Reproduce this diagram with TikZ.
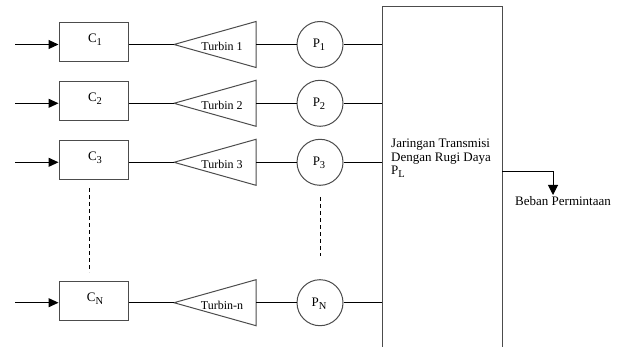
\documentclass[tikz,border=0pt]{standalone}
\usepackage{fontspec}
\setmainfont{Liberation Serif}
\usetikzlibrary{arrows.meta}
\newcommand\mysub[1]{\raisebox{-3pt}{\fontsize{10.5}{11}\selectfont #1}}
\tikzset{
  boxline/.style={draw=black!70, line width=1pt},
  wire/.style={draw=black, line width=1pt},
  inarrow/.style={wire, -{Triangle[length=10pt,width=9pt]}},
  cbox/.style={boxline, minimum width=69pt, minimum height=39pt, inner sep=0pt},
  pcirc/.style={boxline, circle, minimum size=46pt, inner sep=0pt},
  lbl/.style={font=\fontsize{13}{15}\selectfont, inner sep=0pt, anchor=base},
  tlbl/.style={font=\fontsize{12}{14}\selectfont, inner sep=0pt, anchor=base},
  dots/.style={wire, dash pattern=on 4pt off 3pt},
}
\begin{document}
\begin{tikzpicture}[x=1pt,y=-1pt]
\useasboundingbox (0,0) rectangle (620,347);
% big transmission box (open at the bottom)
\coordinate (bbTL) at (382,7);
\coordinate (bbTR) at (502,7);
\draw[boxline] (382,347) -- (bbTL) -- (bbTR) -- (502,347);
\node[lbl, anchor=base west] (bbt1) at (391,148) {Jaringan Transmisi};
\node[lbl, anchor=base west] (bbt2) at (391,162) {Dengan Rugi Daya};
\node[lbl, anchor=base west] (bbt3) at (391,175) {P\mysub{L}};
\foreach \i/\y/\cl/\tl/\pl in {1/44.5/1/Turbin 1/1, 2/103.3/2/Turbin 2/2, 3/162.3/3/Turbin 3/3, 4/302.7/N/Turbin-n/N}{
  \coordinate (in\i) at (15,\y);
  \node[cbox] (c\i) at (93.5,\y-2) {};
  \node[lbl] (cl\i) at (95,\y-1.5) {C\mysub{\cl}};
  \coordinate (tt\i) at (174,\y);
  \coordinate (tu\i) at (256,\y-23);
  \coordinate (tb\i) at (256,\y+23);
  \coordinate (tr\i) at (256,\y);
  \draw[boxline, line join=miter] (tt\i) -- (tu\i) -- (tb\i) -- cycle;
  \node[tlbl] (tl\i) at (222,\y+6.5) {\tl};
  \node[pcirc] (p\i) at (320,\y) {};
  \node[lbl] (pl\i) at (319,\y+3.5) {P\mysub{\pl}};
  \coordinate (bb\i) at (382,\y);
  \draw[inarrow] (in\i) -- (c\i.west |- in\i);
  \draw[wire] (c\i.east |- in\i) -- (tt\i);
  \draw[wire] (tr\i) -- (p\i.west);
  \draw[wire] (p\i.east) -- (bb\i);
}
% dotted continuation
\coordinate (dc1) at (89,188);
\coordinate (dc2) at (89,272);
\coordinate (dp1) at (320,197);
\coordinate (dp2) at (320,256);
\draw[dots] (dc1) -- (dc2);
\draw[dots] (dp1) -- (dp2);
% output
\coordinate (out) at (502,172);
\coordinate (outc) at (553,172);
\coordinate (outt) at (553,195);
\draw[wire, -{Triangle[length=10pt,width=10pt]}] (out) -- (outc) -- (outt);
\node[lbl, anchor=base west] (beban) at (515,206) {Beban Permintaan};
\end{tikzpicture}
\end{document}
